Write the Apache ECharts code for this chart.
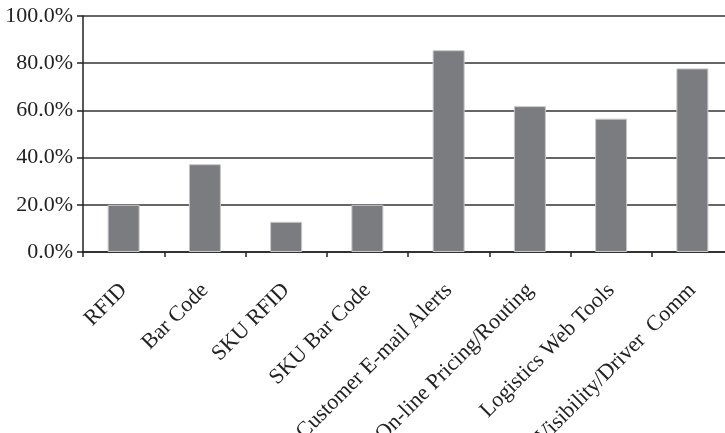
<!DOCTYPE html>
<html>
<head>
<meta charset="utf-8">
<script src="https://cdn.jsdelivr.net/npm/echarts@6/dist/echarts.min.js"></script>
<style>
  html, body { margin: 0; padding: 0; background: #fff; }
  #chart { width: 725px; height: 433px; }
</style>
</head>
<body>
<div id="chart"></div>
<script>
// categories and values (percent)
const categories = ['RFID', 'Bar Code', 'SKU RFID', 'SKU Bar Code', 'Customer E-mail Alerts',
  'On-line Pricing/Routing', 'Logistics Web Tools', 'Visibility/Driver  Comm'];
const values = [20.0, 37.2, 12.8, 20.0, 85.5, 61.8, 56.5, 77.8];

const font = 'Liberation Serif, Times New Roman, serif';
const chart = echarts.init(document.getElementById('chart'));

chart.setOption({
  animation: false,
  grid: {
    left: 83, right: -8, top: 16, bottom: 181,
    containLabel: false, outerBoundsMode: 'none'
  },
  xAxis: {
    type: 'category',
    data: categories,
    axisLine: { lineStyle: { color: '#222', width: 1.5 } },
    axisTick: { show: true, length: 5, lineStyle: { color: '#222', width: 1.5 } },
    axisLabel: {
      rotate: 45, margin: 35, interval: 0,
      fontFamily: font, fontSize: 22, color: '#222'
    }
  },
  yAxis: {
    type: 'value',
    min: 0, max: 100, interval: 20,
    axisLine: { show: true, lineStyle: { color: '#222', width: 1.5 } },
    axisTick: { show: true, length: 6, lineStyle: { color: '#222', width: 1.5 } },
    splitLine: { lineStyle: { color: '#333', width: 1.5 } },
    axisLabel: {
      margin: 10, fontFamily: font, fontSize: 22, color: '#222',
      formatter: v => v.toFixed(1) + '%'
    }
  },
  series: [{
    type: 'bar',
    data: values,
    barWidth: 32,
    itemStyle: { color: '#7b7c80', borderColor: '#c8c8ca', borderWidth: 1 }
  }]
});
</script>
</body>
</html>
